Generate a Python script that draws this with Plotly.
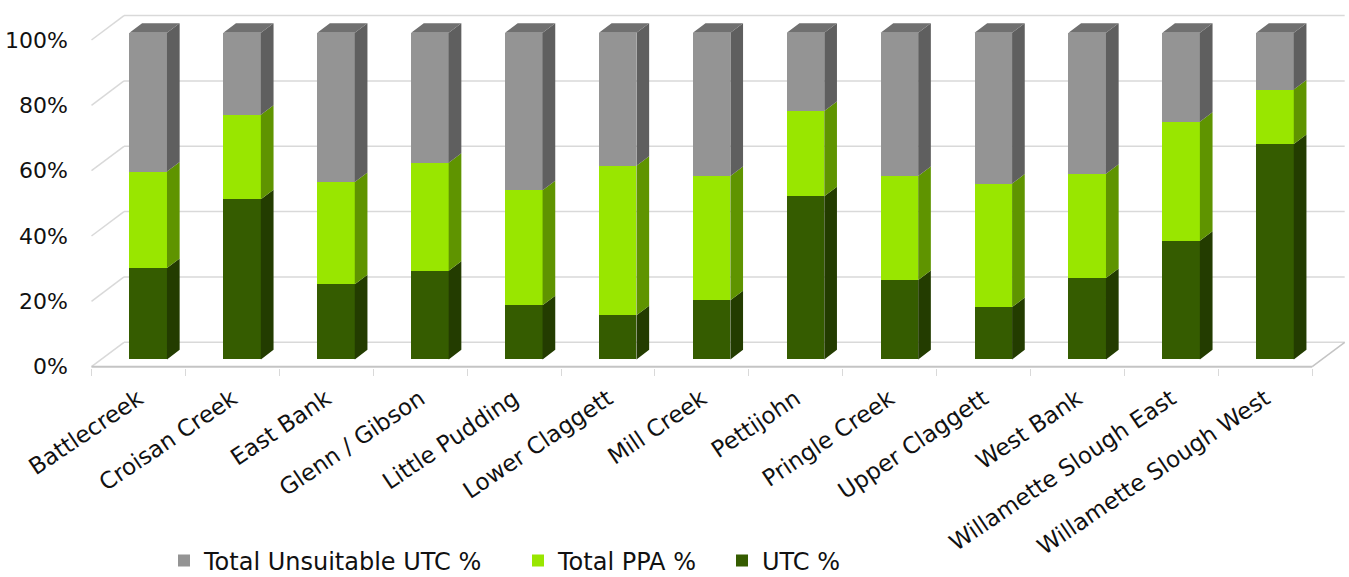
import plotly.graph_objects as go

# Share of each watershed by canopy class (percent of area)
categories = [
    "Battlecreek", "Croisan Creek", "East Bank", "Glenn / Gibson", "Little Pudding",
    "Lower Claggett", "Mill Creek", "Pettijohn", "Pringle Creek", "Upper Claggett",
    "West Bank", "Willamette Slough East", "Willamette Slough West",
]
utc_pct = [28.0, 49.0, 23.0, 27.1, 16.6, 13.5, 18.1, 49.9, 24.3, 16.0, 24.9, 36.3, 65.9]
ppa_pct = [29.5, 25.9, 31.3, 33.1, 35.2, 45.8, 38.0, 26.1, 31.8, 37.8, 31.9, 36.4, 16.7]
unsuitable_pct = [42.5, 25.1, 45.7, 39.8, 48.2, 40.7, 43.9, 24.0, 43.9, 46.2, 43.2, 27.3, 17.4]
y_ticks = [0, 20, 40, 60, 80, 100]
y_tick_text = ["0%", "20%", "40%", "60%", "80%", "100%"]

# series drawn bottom-up: name, values, front colour, side colour, legend slot
series = [
    ("UTC %", utc_pct, "#355c00", "#233c00", "legend3"),
    ("Total PPA %", ppa_pct, "#99e600", "#5f9400", "legend2"),
    ("Total Unsuitable UTC %", unsuitable_pct, "#949494", "#5f5f5f", "legend"),
]
TOP_COLOR = "#707070"

# pseudo-3D geometry (x in category units, y in percent)
DEPTH_X = 0.346      # floor depth along x
DEPTH_Y = 7.47       # floor depth along y
FRONT = 0.30         # bar front face depth fraction
BACK = 0.69          # bar back face depth fraction
BAR_W = 0.40
N = len(categories)

fx, fy = FRONT * DEPTH_X, FRONT * DEPTH_Y
bx, by = BACK * DEPTH_X, BACK * DEPTH_Y

FONT = "DejaVu Sans"
GRID = "#d9d9d9"
EDGE = "#c4c4c4"
TEXT = "#111111"

fig = go.Figure()

base = [0.0] * N
for name, vals, front_col, side_col, leg in series:
    fig.add_trace(go.Bar(
        x=[i + 0.5 + fx for i in range(N)],
        y=vals,
        base=[b + fy for b in base],
        width=BAR_W,
        name=name,
        legend=leg,
        marker=dict(color=front_col, line=dict(width=0)),
        hovertemplate="%{text}: %{y:.1f}%<extra>" + name + "</extra>",
        text=categories,
        textposition="none",
    ))
    # right-hand side faces
    sx, sy = [], []
    for i in range(N):
        xr = i + 0.5 + BAR_W / 2
        y0, y1 = base[i], base[i] + vals[i]
        sx += [xr + fx, xr + bx, xr + bx, xr + fx, xr + fx, None]
        sy += [y0 + fy, y0 + by, y1 + by, y1 + fy, y0 + fy, None]
    fig.add_trace(go.Scatter(
        x=sx, y=sy, mode="lines", fill="toself", fillcolor=side_col,
        line=dict(width=0, color=side_col), hoverinfo="skip", showlegend=False,
    ))
    base = [b + v for b, v in zip(base, vals)]

# top faces of the stacks
tx, ty = [], []
for i in range(N):
    xl, xr = i + 0.5 - BAR_W / 2, i + 0.5 + BAR_W / 2
    yt = base[i]
    tx += [xl + fx, xr + fx, xr + bx, xl + bx, xl + fx, None]
    ty += [yt + fy, yt + fy, yt + by, yt + by, yt + fy, None]
fig.add_trace(go.Scatter(
    x=tx, y=ty, mode="lines", fill="toself", fillcolor=TOP_COLOR,
    line=dict(width=0, color=TOP_COLOR), hoverinfo="skip", showlegend=False,
))

# walls and floor, behind the bars
shapes = []
for v in y_ticks:
    shapes.append(dict(type="line", xref="x", yref="y", layer="below",
                       x0=DEPTH_X, x1=N + DEPTH_X, y0=v + DEPTH_Y, y1=v + DEPTH_Y,
                       line=dict(color=GRID, width=1.5)))
    shapes.append(dict(type="line", xref="x", yref="y", layer="below",
                       x0=0, x1=DEPTH_X, y0=v, y1=v + DEPTH_Y,
                       line=dict(color=GRID, width=1.5)))
shapes.append(dict(type="line", xref="x", yref="y", layer="below",
                   x0=0, x1=N, y0=0, y1=0, line=dict(color=EDGE, width=2)))
shapes.append(dict(type="line", xref="x", yref="y", layer="below",
                   x0=N, x1=N + DEPTH_X, y0=0, y1=DEPTH_Y, line=dict(color=EDGE, width=1.5)))

# pixel layout of the plot area
W, H = 1349, 577
ML, MR, MT, MB = 73, 2, 12, 209
PX_PER_CAT = 93.9
X0_PX = 91.5                      # pixel of category edge 0
x_lo = -(X0_PX - ML) / PX_PER_CAT
x_hi = x_lo + (W - ML - MR) / PX_PER_CAT
PX_PER_PCT = 3.267
Y0_PX = 366.7                     # pixel of 0 %
y_lo = -((H - MB) - Y0_PX) / PX_PER_PCT
y_hi = y_lo + (H - MT - MB) / PX_PER_PCT


def legend_box(x_px):
    return dict(
        orientation="h", xref="container", yref="container",
        x=x_px / W, y=16 / H, xanchor="left", yanchor="middle",
        bgcolor="rgba(0,0,0,0)",
        font=dict(family=FONT, size=24, color=TEXT),
        itemclick=False, itemdoubleclick=False,
    )


fig.update_layout(
    width=W, height=H,
    margin=dict(l=ML, r=MR, t=MT, b=MB, pad=0, autoexpand=False),
    paper_bgcolor="white", plot_bgcolor="white",
    barmode="overlay", bargap=0,
    shapes=shapes,
    font=dict(family=FONT, color=TEXT, size=22),
    showlegend=True,
    legend=legend_box(164),
    legend2=legend_box(518),
    legend3=legend_box(722),
    xaxis=dict(
        range=[x_lo, x_hi], showgrid=False, zeroline=False, showline=False,
        automargin=False,
        tickmode="array", tickvals=[i + 0.5 for i in range(N)], ticktext=categories,
        ticks="", tickangle=-34, ticklabelstandoff=12,
        tickfont=dict(family=FONT, size=23, color=TEXT),
        minor=dict(tickmode="array", tickvals=list(range(N + 1)), ticks="outside",
                   ticklen=7, tickwidth=1, tickcolor=GRID, showgrid=False),
        fixedrange=True,
    ),
    yaxis=dict(
        range=[y_lo, y_hi], showgrid=False, zeroline=False, showline=False,
        automargin=False,
        tickmode="array", tickvals=y_ticks, ticktext=y_tick_text, ticks="",
        ticklabelstandoff=4,
        tickfont=dict(family=FONT, size=22, color=TEXT),
        fixedrange=True,
    ),
)

fig.write_html("out.html")
